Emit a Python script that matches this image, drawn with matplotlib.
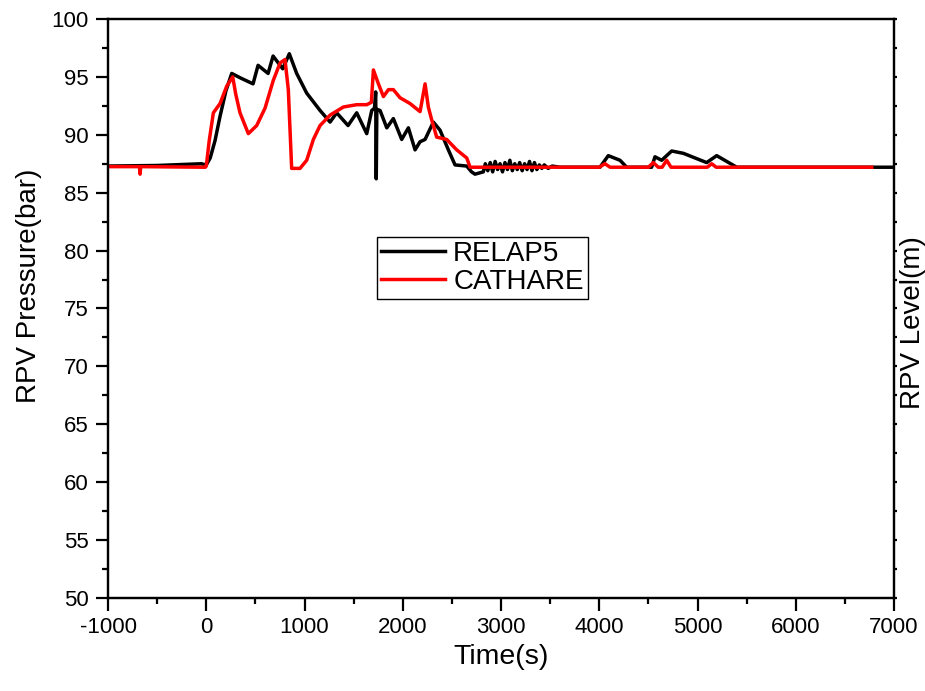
import matplotlib
matplotlib.use("Agg")
import matplotlib.pyplot as plt
import numpy as np
from matplotlib.ticker import MultipleLocator

plt.rcParams.update(
    {
        "font.family": "sans-serif",
        "font.sans-serif": ["Liberation Sans", "DejaVu Sans"],
        "axes.linewidth": 1.6,
        "axes.unicode_minus": False,
    }
)

# RELAP5 (black) pressure trace
relap_t = [
    -1000, -500, -50, 0, 40, 89, 140, 200, 259, 350, 476, 527, 629, 680, 778,
    845, 920, 1022, 1158, 1260, 1327, 1443, 1531, 1633, 1684, 1712, 1724, 1730,
    1736, 1769, 1837, 1904, 1989, 2057, 2125, 2176, 2227, 2311, 2379, 2464,
    2532, 2651, 2700, 2735, 2820, 2840, 2865, 2890, 2915, 2940, 2965, 2990,
    3015, 3040, 3065, 3090, 3115, 3140, 3165, 3190, 3215, 3240, 3265, 3290,
    3315, 3340, 3365, 3390, 3415, 3440, 3480, 3520, 3600, 4007, 4092, 4211,
    4279, 4533, 4567, 4635, 4737, 4856, 5093, 5195, 5297, 5399, 7000,
]
relap_p = [
    87.3, 87.35, 87.5, 87.4, 88.0, 89.5, 91.6, 93.8, 95.3, 94.9, 94.4, 96.0,
    95.3, 96.8, 95.7, 97.0, 95.3, 93.6, 92.1, 91.1, 91.9, 90.8, 91.9, 90.1,
    92.1, 92.3, 93.7, 86.2, 92.2, 92.1, 90.6, 91.4, 89.6, 90.6, 88.7, 89.4,
    89.6, 91.1, 90.4, 88.7, 87.4, 87.3, 86.8, 86.6, 86.8, 87.5, 86.9, 87.6,
    86.8, 87.7, 87.0, 87.5, 86.8, 87.6, 87.0, 87.8, 86.9, 87.5, 87.0, 87.6,
    86.9, 87.5, 87.0, 87.7, 86.9, 87.6, 87.0, 87.4, 87.1, 87.4, 87.1, 87.3,
    87.2, 87.2, 88.2, 87.8, 87.2, 87.2, 88.1, 87.8, 88.6, 88.4, 87.6, 88.2,
    87.7, 87.2, 87.2,
]

# CATHARE (red) pressure trace
cathare_t = [
    -1000, -680, -674, -668, -10, 0, 30, 72, 140, 208, 269, 300, 343, 428,
    513, 598, 682, 751, 801, 835, 869, 954, 1022, 1090, 1158, 1260, 1395,
    1531, 1633, 1680, 1701, 1752, 1803, 1854, 1904, 1972, 2074, 2176, 2227,
    2260, 2294, 2345, 2447, 2549, 2651, 2685, 4000, 4058, 4110, 4500, 4550,
    4600, 4640, 4686, 4730, 5100, 5144, 5190, 6773,
]
cathare_p = [
    87.25, 87.25, 86.6, 87.25, 87.2, 87.3, 89.5, 91.9, 92.7, 94.2, 95.0, 93.5,
    91.9, 90.1, 90.8, 92.3, 94.7, 96.2, 96.5, 93.9, 87.1, 87.1, 87.8, 89.6,
    90.8, 91.7, 92.4, 92.6, 92.6, 92.8, 95.6, 94.4, 93.3, 93.9, 93.9, 93.2,
    92.7, 92.0, 94.4, 92.4, 91.3, 89.8, 89.6, 88.7, 88.0, 87.2, 87.2, 87.5,
    87.2, 87.2, 87.6, 87.2, 87.2, 87.8, 87.2, 87.2, 87.5, 87.2, 87.2,
]

fig = plt.figure(figsize=(9.25, 6.91), dpi=100)
ax = fig.add_axes([0.1168, 0.1346, 0.8497, 0.8379])

ax.plot(relap_t, relap_p, color="black", lw=2.5, label="RELAP5")
ax.plot(cathare_t, cathare_p, color="#ff0000", lw=2.5, label="CATHARE")

ax.set_xlim(-1000, 7000)
ax.set_ylim(50, 100)
ax.xaxis.set_major_locator(MultipleLocator(1000))
ax.xaxis.set_minor_locator(MultipleLocator(500))
ax.yaxis.set_major_locator(MultipleLocator(5))
ax.yaxis.set_minor_locator(MultipleLocator(2.5))
ax.tick_params(which="major", length=9, width=1.6, labelsize=16, pad=5)
ax.tick_params(which="minor", length=4.5, width=1.6)
ax.tick_params(top=False, right=False, which="both")

ax.set_xlabel("Time(s)", fontsize=20.5, labelpad=4)
ax.set_ylabel("RPV Pressure(bar)", fontsize=20)
ax.yaxis.set_label_coords(-0.084, 0.54)

# empty right-hand axis (level)
ax2 = ax.twinx()
ax2.set_ylim(0, 20)
ax2.set_yticks(np.arange(0, 21, 1))
ax2.tick_params(axis="y", length=2.5, width=1.6, labelright=False)
ax2.spines["right"].set_linewidth(1.6)
ax.text(1.008, 0.475, "RPV Level(m)", transform=ax.transAxes, rotation=90,
        ha="left", va="center", fontsize=20, clip_on=False)

leg = ax.legend(loc="upper left", bbox_to_anchor=(0.342, 0.6235),
                borderaxespad=0, fontsize=20, frameon=True, fancybox=False,
                edgecolor="black", framealpha=1, handlelength=2.3,
                handletextpad=0.3, borderpad=0.15, labelspacing=0.05)
leg.get_frame().set_linewidth(1.0)

fig.savefig("out.png", dpi=100)
